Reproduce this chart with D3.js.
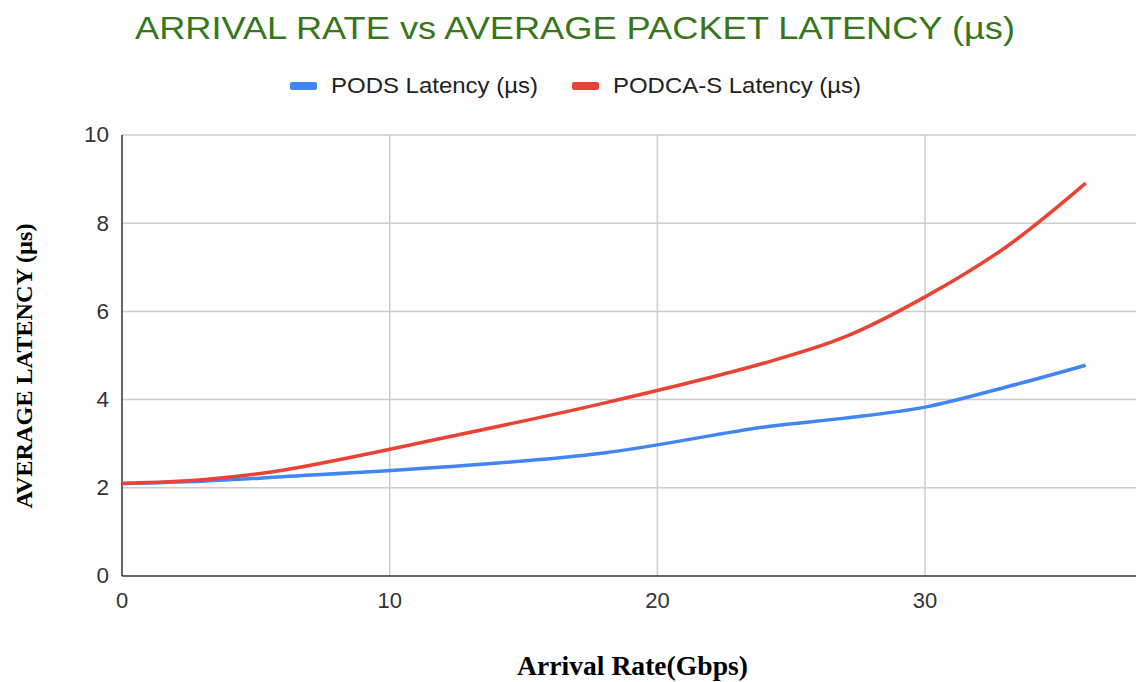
<!DOCTYPE html>
<html><head><meta charset="utf-8">
<script src="https://cdn.jsdelivr.net/npm/d3@7"></script>
<style>body{margin:0;background:#fff}svg{display:block}</style>
</head><body>
<script>
const arrivalRate = [0, 3, 6, 12, 18, 24, 27, 30, 33, 36];
const podsLatency = [2.10, 2.15, 2.25, 2.47, 2.79, 3.38, 3.58, 3.83, 4.28, 4.78];
const podcaLatency = [2.10, 2.18, 2.40, 3.13, 3.92, 4.83, 5.42, 6.33, 7.45, 8.91];
const seriesNames = ["PODS Latency (µs)", "PODCA-S Latency (µs)"];
const seriesColors = ["#4285f4", "#ea4335"];
const xTicks = [0, 10, 20, 30];
const yTicks = [0, 2, 4, 6, 8, 10];

const W = 1136, H = 682;
const svg = d3.select("body").append("svg").attr("width", W).attr("height", H);
const pL = 122, pR = 1136, pT = 135, pB = 576;
const x = d3.scaleLinear().domain([0, 10]).range([pL, 389.7]);
const y = d3.scaleLinear().domain([0, 10]).range([pB, pT]);

svg.append("defs").append("clipPath").attr("id","clip").append("rect")
  .attr("x", pL).attr("y", pT-5).attr("width", pR-pL).attr("height", pB-pT+10);

// grid
const g = svg.append("g");
g.selectAll(".hg").data(yTicks.filter(d=>d>0)).join("line")
  .attr("x1", pL).attr("x2", pR).attr("y1", d=>y(d)).attr("y2", d=>y(d))
  .attr("stroke", "#cccccc").attr("stroke-width", 1.5);
g.selectAll(".vg").data(xTicks.filter(d=>d>0)).join("line")
  .attr("x1", d=>x(d)).attr("x2", d=>x(d)).attr("y1", pT).attr("y2", pB)
  .attr("stroke", "#cccccc").attr("stroke-width", 1.5);

// axes lines
svg.append("line").attr("x1", pL).attr("x2", pL).attr("y1", pT).attr("y2", pB)
  .attr("stroke", "#333").attr("stroke-width", 1.5);
svg.append("line").attr("x1", pL).attr("x2", pR).attr("y1", pB).attr("y2", pB)
  .attr("stroke", "#333").attr("stroke-width", 1.5);

// tick labels
svg.selectAll(".yt").data(yTicks).join("text")
  .attr("x", 109).attr("y", d=>y(d)).attr("dy", "0.33em").attr("text-anchor","end")
  .attr("font-family","Liberation Sans, Arial, sans-serif").attr("font-size", 22.5).attr("fill","#333")
  .text(d=>d);
svg.selectAll(".xt").data(xTicks).join("text")
  .attr("x", d=>x(d)).attr("y", 608).attr("text-anchor","middle")
  .attr("font-family","Liberation Sans, Arial, sans-serif").attr("font-size", 22).attr("fill","#333")
  .text(d=>d);

// lines
const line = d3.line().curve(d3.curveCatmullRom.alpha(0.5));
const series = [podsLatency, podcaLatency];
const lg = svg.append("g").attr("clip-path","url(#clip)");
series.forEach((s, i) => {
  lg.append("path").attr("d", line(arrivalRate.map((a, j) => [x(a), y(s[j])])))
    .attr("fill","none").attr("stroke", seriesColors[i]).attr("stroke-width", 3.5)
    .attr("stroke-linejoin","round");
});

// title
svg.append("text").attr("x", 135).attr("y", 39)
  .attr("font-family","Liberation Sans, Arial, sans-serif").attr("font-size", 32)
  .attr("textLength", 880).attr("lengthAdjust","spacingAndGlyphs")
  .attr("fill","#38761d").text("ARRIVAL RATE vs AVERAGE PACKET LATENCY (µs)");

// legend
const legX = [290, 572];
const legLen = [207, 248];
seriesNames.forEach((n, i) => {
  svg.append("rect").attr("x", legX[i]).attr("y", 82).attr("width", 27).attr("height", 8)
    .attr("rx", 2).attr("fill", seriesColors[i]);
  svg.append("text").attr("x", legX[i] + 41).attr("y", 93)
    .attr("font-family","Liberation Sans, Arial, sans-serif").attr("font-size", 22).attr("fill","#222")
    .attr("textLength", legLen[i]).attr("lengthAdjust","spacingAndGlyphs")
    .text(n);
});

// axis titles
svg.append("text").attr("transform", "translate(32,366) rotate(-90)").attr("text-anchor","middle")
  .attr("font-family","Liberation Serif, Times New Roman, serif").attr("font-weight","bold")
  .attr("textLength", 285).attr("lengthAdjust","spacingAndGlyphs")
  .attr("font-size", 23).attr("fill","#000").text("AVERAGE LATENCY (µs)");
svg.append("text").attr("x", 517).attr("y", 675)
  .attr("font-family","Liberation Serif, Times New Roman, serif").attr("font-weight","bold")
  .attr("textLength", 231).attr("lengthAdjust","spacingAndGlyphs")
  .attr("font-size", 27).attr("fill","#000").text("Arrival Rate(Gbps)");
</script>
</body></html>
